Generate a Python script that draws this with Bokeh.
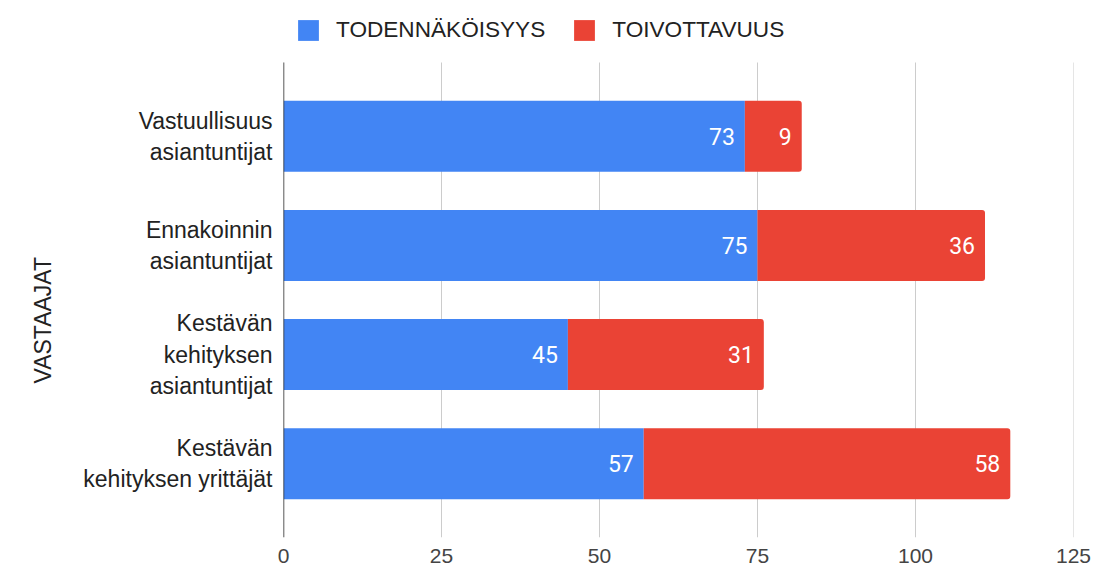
from bokeh.plotting import figure
from bokeh.models import Range1d, FixedTicker, Legend, LegendItem, ColumnDataSource, Title
from bokeh.core.properties import value
from bokeh.embed import file_html
from bokeh.resources import INLINE

categories = [
    "Vastuullisuus\nasiantuntijat",
    "Ennakoinnin\nasiantuntijat",
    "Kestävän\nkehityksen\nasiantuntijat",
    "Kestävän\nkehityksen yrittäjät",
]
series_names = ["TODENNÄKÖISYYS", "TOIVOTTAVUUS"]
todennakoisyys = [73, 75, 45, 57]
toivottavuus = [9, 36, 31, 58]
x_ticks = [0, 25, 50, 75, 100, 125]
y_title = "VASTAAJAT"

BLUE = "#4285F4"
RED = "#EA4335"
FONT = "Liberation Sans"

# category band layout (data units): bands from PAD_LO to PAD_HI
PAD_LO, PAD_HI = -0.675, 3.675
TOP_EXTRA = -1.243   # room above the bands for the legend

ypos = list(range(len(categories)))
end1 = list(todennakoisyys)
end2 = [a + b for a, b in zip(todennakoisyys, toivottavuus)]

src = ColumnDataSource(dict(
    y=ypos, end1=end1, end2=end2,
    zero=[0] * len(ypos),
    lab1=[str(x) for x in todennakoisyys], lab2=[str(x) for x in toivottavuus],
))

p = figure(width=1095, height=571,
           x_range=Range1d(0, 125), y_range=Range1d(PAD_HI, TOP_EXTRA),
           output_backend="svg", toolbar_location=None,
           min_border_left=283, min_border_right=22,
           min_border_top=0, min_border_bottom=34)
p.outline_line_color = None
p.background_fill_color = "white"
p.xgrid.grid_line_color = None
p.ygrid.grid_line_color = None

# vertical gridlines limited to the band area
p.segment(x0=x_ticks, x1=x_ticks, y0=[PAD_LO] * len(x_ticks), y1=[PAD_HI] * len(x_ticks),
          line_color="#cccccc", line_width=1)

r1 = p.hbar(y="y", left="zero", right="end1", height=0.65, source=src,
            fill_color=BLUE, line_color=None)
r2 = p.hbar(y="y", left="end1", right="end2", height=0.65, source=src,
            fill_color=RED, line_color=None, border_radius=(0, 3, 3, 0))

# y axis line limited to the band area
p.segment(x0=[0], x1=[0], y0=[PAD_LO], y1=[PAD_HI], line_color="#333333", line_width=1.5)

p.text(x="end1", y="y", text="lab1", source=src, x_offset=-10,
       text_align="right", text_baseline="middle", text_color="white",
       text_font=value("Roboto"), text_font_size="23px")
p.text(x="end2", y="y", text="lab2", source=src, x_offset=-10,
       text_align="right", text_baseline="middle", text_color="white",
       text_font=value("Roboto"), text_font_size="23px")

# x axis
p.xaxis.ticker = FixedTicker(ticks=x_ticks)
p.xaxis.axis_line_color = None
p.xaxis.major_tick_line_color = None
p.xaxis.major_tick_out = 0
p.xaxis.major_tick_in = 0
p.xaxis.minor_tick_line_color = None
p.xaxis.major_label_standoff = 11
p.xaxis.major_label_text_font = FONT
p.xaxis.major_label_text_font_size = "21px"
p.xaxis.major_label_text_color = "#444444"

# y axis
p.yaxis.ticker = FixedTicker(ticks=ypos)
p.yaxis.major_label_overrides = {i: c for i, c in zip(ypos, categories)}
p.yaxis.axis_line_color = None
p.yaxis.major_tick_line_color = None
p.yaxis.major_tick_out = 0
p.yaxis.major_tick_in = 0
p.yaxis.minor_tick_line_color = None
p.yaxis.major_label_standoff = 11
p.yaxis.major_label_text_font = FONT
p.yaxis.major_label_text_font_size = "23px"
p.yaxis.major_label_text_color = "#222222"

ytitle = Title(text=y_title, align="left", offset=154, vertical_align="bottom",
               standoff=50,
               text_font=FONT, text_font_size="23px", text_font_style="normal",
               text_color="#222222")
p.add_layout(ytitle, "left")

legend = Legend(items=[LegendItem(label=series_names[0], renderers=[r1]),
                       LegendItem(label=series_names[1], renderers=[r2])],
                orientation="horizontal", location=(12, 494),
                padding=0, margin=0, spacing=26,
                glyph_width=26, glyph_height=26, label_standoff=15,
                label_text_font=FONT, label_text_font_size="22.6px",
                label_text_color="#222222",
                border_line_color=None, background_fill_alpha=0)
p.add_layout(legend, "center")

open("out.html", "w").write(file_html(p, INLINE))
